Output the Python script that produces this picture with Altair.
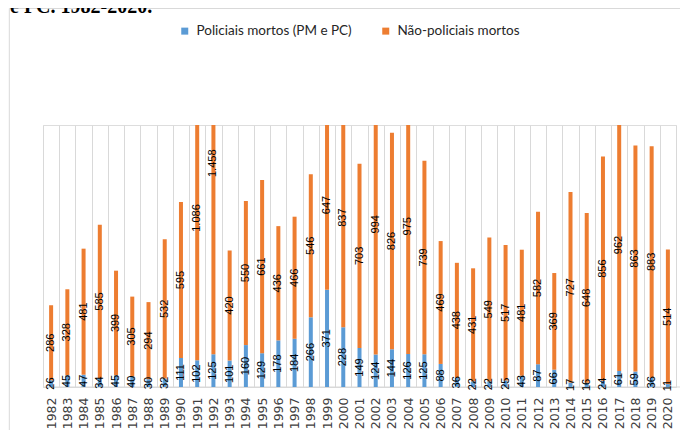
import altair as alt
import pandas as pd

years = ["1982", "1983", "1984", "1985", "1986", "1987", "1988", "1989", "1990", "1991",
         "1992", "1993", "1994", "1995", "1996", "1997", "1998", "1999", "2000", "2001",
         "2002", "2003", "2004", "2005", "2006", "2007", "2008", "2009", "2010", "2011",
         "2012", "2013", "2014", "2015", "2016", "2017", "2018", "2019", "2020"]
policiais = [26, 45, 47, 34, 45, 40, 30, 32, 111, 102, 125, 101, 160, 129, 178, 184, 266, 371, 228, 149,
             124, 144, 126, 125, 88, 36, 22, 22, 25, 43, 87, 66, 17, 16, 24, 61, 59, 36, 11]
nao_policiais = [286, 328, 481, 585, 399, 305, 294, 532, 595, 1086, 1458, 420, 550, 661, 436, 466, 546, 647, 837, 703,
                 994, 826, 975, 739, 469, 438, 431, 549, 517, 481, 582, 369, 727, 648, 856, 962, 863, 883, 514]
series_names = ["Policiais mortos (PM e PC)", "Não-policiais mortos"]
colors = ["#5B9BD5", "#ED7D31"]
title_text = "e PC. 1982-2020."


def fmt(v):
    return f"{v:,}".replace(",", ".")


rows = []
for i, y in enumerate(years):
    rows.append({"year": y, "series": series_names[0], "value": policiais[i], "order": 0, "label": fmt(policiais[i])})
    rows.append({"year": y, "series": series_names[1], "value": nao_policiais[i], "order": 1, "label": fmt(nao_policiais[i])})
df = pd.DataFrame(rows)

W, H = 633, 262
GRID = "#D9D9D9"

x_enc = alt.X(
    "year:O", sort=years,
    scale=alt.Scale(paddingInner=0, paddingOuter=0),
    axis=alt.Axis(title=None, labelAngle=-90, labelAlign="right", labelBaseline="middle",
                  labelFont="DejaVu Sans", labelFontSize=12.5, labelColor="#404040",
                  labelPadding=10, ticks=False, domain=True, domainColor=GRID,
                  grid=True, gridColor=GRID, gridWidth=1, tickBand="extent"),
)
y_scale = alt.Scale(domain=[0, 1000], nice=False)

bars = alt.Chart(df).mark_bar(size=4, clip=True).encode(
    x=x_enc,
    y=alt.Y("value:Q", stack="zero", scale=y_scale, axis=None),
    color=alt.Color("series:N",
                    scale=alt.Scale(domain=series_names, range=colors),
                    legend=alt.Legend(title=None, orient="none", legendX=135, legendY=-101,
                                      direction="horizontal", symbolType="square",
                                      symbolSize=49, symbolStrokeWidth=0,
                                      labelFont="Lato", labelFontSize=13.5, labelColor="#262626",
                                      columnPadding=27, labelOffset=5)),
    order=alt.Order("order:Q"),
)

labels = alt.Chart(df).transform_stack(
    stack="value", groupby=["year"], as_=["v0", "v1"],
    sort=[alt.SortField("order", order="ascending")],
).transform_calculate(
    mid="(datum.v0 + datum.v1) / 2"
).mark_text(angle=270, align="center", baseline="middle",
            font="Liberation Sans", fontSize=11, color="#000000").encode(
    x=alt.X("year:O", sort=years),
    y=alt.Y("mid:Q", scale=y_scale),
    text="label:N",
)

one = pd.DataFrame({"k": [0]})
left_border = alt.Chart(one).mark_rule(color=GRID, strokeWidth=1).encode(
    x=alt.value(-33.7), y=alt.value(-116.5), y2=alt.value(H + 60))
top_border = alt.Chart(one).mark_rule(color=GRID, strokeWidth=1).encode(
    x=alt.value(-33.7), x2=alt.value(W + 20), y=alt.value(-116.5))
axis_ext = alt.Chart(one).mark_rule(color=GRID, strokeWidth=1).encode(
    x=alt.value(0), x2=alt.value(W + 20), y=alt.value(H))
title = alt.Chart(one).mark_text(align="left", baseline="alphabetic", font="Liberation Serif",
                                 fontSize=20, fontWeight="bold", color="#000000").encode(
    x=alt.value(-33), y=alt.value(-112), text=alt.value(title_text))

chart = alt.layer(left_border, top_border, axis_ext, bars, labels, title).properties(
    width=W, height=H,
    padding={"left": 35, "top": 117, "right": 4, "bottom": 43},
    autosize=alt.AutoSizeParams(type="none"),
).configure_view(stroke=None).configure(background="white")

chart.save("out.html", embed_options={"renderer": "svg", "actions": False})
